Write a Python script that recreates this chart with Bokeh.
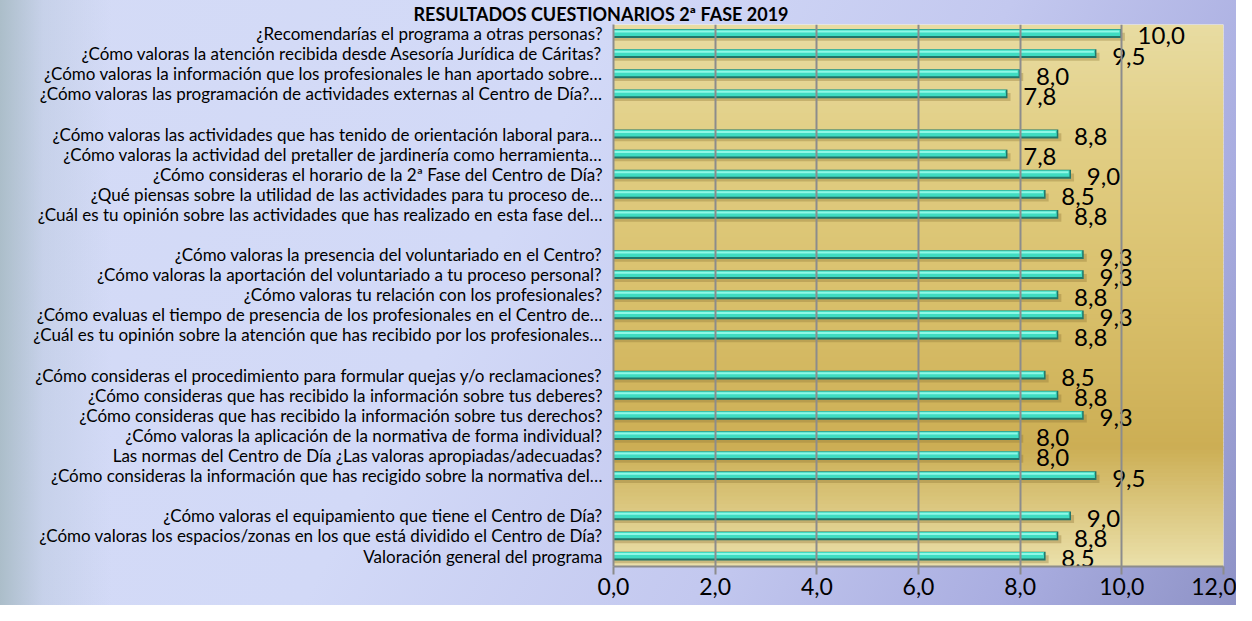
import math
from bokeh.plotting import figure
from bokeh.models import Range1d, FixedTicker
from bokeh.core.properties import value
from bokeh.embed import file_html
from bokeh.resources import INLINE

title_text = "RESULTADOS CUESTIONARIOS 2ª FASE 2019"

categories = [
    "¿Recomendarías el programa a otras personas?",
    "¿Cómo valoras la atención recibida desde Asesoría Jurídica de Cáritas?",
    "¿Cómo valoras la información que los profesionales le han aportado sobre…",
    "¿Cómo valoras las programación de actividades externas al Centro de Día?…",
    "",
    "¿Cómo valoras las actividades que has tenido de orientación laboral para…",
    "¿Cómo valoras la actividad del pretaller de jardinería como herramienta…",
    "¿Cómo consideras el horario de la 2ª Fase del Centro de Día?",
    "¿Qué piensas sobre la utilidad de las actividades para tu proceso de…",
    "¿Cuál es tu opinión sobre las actividades que has realizado en esta fase del…",
    "",
    "¿Cómo valoras la presencia del voluntariado en el Centro?",
    "¿Cómo valoras la aportación del voluntariado a tu proceso personal?",
    "¿Cómo valoras tu relación con los profesionales?",
    "¿Cómo evaluas el tiempo de presencia de los profesionales en el Centro de…",
    "¿Cuál es tu opinión sobre la atención que has recibido por los profesionales…",
    "",
    "¿Cómo consideras el procedimiento para formular quejas y/o reclamaciones?",
    "¿Cómo consideras que has recibido la información sobre tus deberes?",
    "¿Cómo consideras que has recibido la información sobre tus derechos?",
    "¿Cómo valoras la aplicación de la normativa de forma individual?",
    "Las normas del Centro de Día ¿Las valoras apropiadas/adecuadas?",
    "¿Cómo consideras la información que has recigido sobre la normativa del…",
    "",
    "¿Cómo valoras el equipamiento que tiene el Centro de Día?",
    "¿Cómo valoras los espacios/zonas en los que está dividido el Centro de Día?",
    "Valoración general del programa",
]

scores = [
    10.0, 9.5, 8.0, 7.75,
    None,
    8.75, 7.75, 9.0, 8.5, 8.75,
    None,
    9.25, 9.25, 8.75, 9.25, 8.75,
    None,
    8.5, 8.75, 9.25, 8.0, 8.0, 9.5,
    None,
    9.0, 8.75, 8.5,
]

x_ticks = [0, 2, 4, 6, 8, 10, 12]
x_tick_labels = ["0,0", "2,0", "4,0", "6,0", "8,0", "10,0", "12,0"]


def fmt(v):
    return f"{math.floor(v * 10 + 0.5) / 10:.1f}".replace(".", ",")


rows = [i for i, c in enumerate(categories) if c]
vals = [scores[i] for i in rows]
val_labels = [fmt(v) for v in vals]

n_rows = len(categories)
y_top = -0.45
y_bot = n_rows - 1 + 0.52

FONT = "Lato"

p = figure(
    width=1236, height=605,
    output_backend="svg", toolbar_location=None,
    x_range=Range1d(0, 12), y_range=Range1d(y_bot, y_top),
    min_border_left=613, min_border_right=13,
    min_border_top=0, min_border_bottom=39,
    title=title_text,
)
p.title.align = "left"
p.title.offset = -200
p.title.standoff = 0
p.title.text_font = FONT
p.title.text_font_size = "18px"
p.title.text_font_style = "bold"
p.title.text_color = "#000000"

p.border_fill_alpha = 0
p.outline_line_color = None
p.styles = {
    "background": (
        "linear-gradient(90deg, rgba(158,180,186,0.75) 0%, rgba(175,192,210,0.35) 3.5%, rgba(200,210,240,0) 9%), "
        "linear-gradient(118deg, #d4dbf6 0%, #d2d9f7 40%, #c3c8ef 65%, #a9ade0 85%, #8e92c6 100%)"
    )
}

# gold gradient plot area (vertical)
stops = [
    (0.00, (232, 220, 162)),
    (0.20, (226, 207, 134)),
    (0.50, (217, 192, 108)),
    (0.78, (204, 174, 84)),
    (1.00, (234, 224, 170)),
]


def grad(t):
    for (t0, c0), (t1, c1) in zip(stops[:-1], stops[1:]):
        if t0 <= t <= t1:
            f = (t - t0) / (t1 - t0)
            return "#%02x%02x%02x" % tuple(int(round(a + (b - a) * f)) for a, b in zip(c0, c1))
    return "#%02x%02x%02x" % stops[-1][1]


n_strips = 140
span = y_bot - y_top
dy = span / n_strips
strip_y = [y_top + dy * (k + 0.5) for k in range(n_strips)]
strip_c = [grad((k + 0.5) / n_strips) for k in range(n_strips)]
bg = p.hbar(y=strip_y, left=0, right=12, height=dy * 1.25, fill_color=strip_c, line_color=None)
bg.level = "image"

# grid
p.xgrid.ticker = FixedTicker(ticks=x_ticks)
p.xgrid.grid_line_color = "#8c8c8c"
p.xgrid.grid_line_width = 2
p.xgrid.level = "glyph"
p.ygrid.grid_line_color = None

# bars
shadow_y = [r + 0.16 for r in rows]
p.hbar(y=shadow_y, left=0, right=[v + 0.06 for v in vals], height=0.4,
       fill_color="#8c7434", fill_alpha=0.35, line_color=None)
p.hbar(y=rows, left=0, right=vals, height=0.44, fill_color="#22766a", line_color=None)
p.hbar(y=[r - 0.04 for r in rows], left=0, right=[v - 0.03 for v in vals], height=0.32,
       fill_color="#3fdcc2", line_color=None)
p.hbar(y=[r - 0.1 for r in rows], left=0, right=[v - 0.05 for v in vals], height=0.1,
       fill_color="#8ef8e6", line_color=None)

# value labels
p.text(x=[v + 0.31 for v in vals], y=[r + 0.12 for r in rows], text=val_labels,
       text_font=value(FONT), text_font_size="24px", text_color="#000000",
       text_baseline="middle", text_align="left")

# axes
p.yaxis.ticker = FixedTicker(ticks=rows)
p.yaxis.major_label_overrides = {r: categories[r] for r in rows}
p.yaxis.major_label_text_font = FONT
p.yaxis.major_label_text_font_size = "17px"
p.yaxis.major_label_text_color = "#000000"
p.yaxis.major_label_standoff = 5
p.yaxis.major_tick_line_color = None
p.yaxis.minor_tick_line_color = None
p.yaxis.axis_line_color = "#8c8c8c"
p.yaxis.axis_line_width = 2

p.xaxis.ticker = FixedTicker(ticks=x_ticks)
p.xaxis.major_label_overrides = {t: l for t, l in zip(x_ticks, x_tick_labels)}
p.xaxis.major_label_text_font = FONT
p.xaxis.major_label_text_font_size = "23px"
p.xaxis.major_label_text_color = "#000000"
p.xaxis.major_label_standoff = 3
p.xaxis.major_tick_out = 8
p.xaxis.major_tick_in = 0
p.xaxis.major_tick_line_color = "#8c8c8c"
p.xaxis.major_tick_line_width = 2
p.xaxis.minor_tick_line_color = None
p.xaxis.axis_line_color = "#8c8c8c"
p.xaxis.axis_line_width = 2

open("out.html", "w").write(file_html(p, INLINE))
